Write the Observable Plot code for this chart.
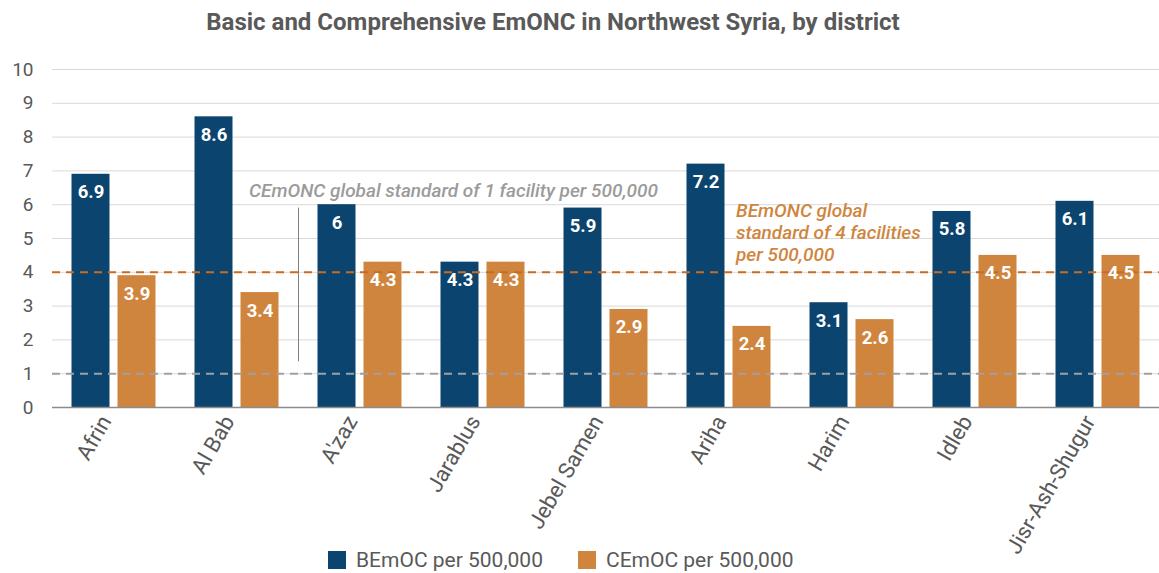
<!DOCTYPE html>
<html>
<head>
<meta charset="utf-8">
<script src="https://cdn.jsdelivr.net/npm/d3@7"></script>
<script src="https://cdn.jsdelivr.net/npm/@observablehq/plot@0.6"></script>
<style>
  html, body { margin: 0; padding: 0; background: #fff; }
  #wrap { position: relative; width: 1159px; height: 573px; font-family: Roboto, "Noto Sans", sans-serif; }
  #title { width: 1106px; height: 45px; line-height: 45px; text-align: center; font-weight: bold; font-size: 24px; color: #595959; }
  #legend { position: absolute; left: 328px; top: 548px; display: flex; align-items: center; font-size: 21px; color: #595959; }
  #legend .item { display: flex; align-items: center; margin-right: 35px; }
  #legend .sw { width: 18px; height: 18px; margin-right: 10px; }
</style>
</head>
<body>
<div id="wrap">
  <div id="title">Basic and Comprehensive EmONC in Northwest Syria, by district</div>
  <div id="chart"></div>
  <div id="legend"></div>
</div>
<script>
// Districts of Northwest Syria
const districts = ["Afrin", "Al Bab", "A'zaz", "Jarablus", "Jebel Samen", "Ariha", "Harim", "Idleb", "Jisr-Ash-Shugur"];
// Facilities per 500,000 population
const bemoc = [6.9, 8.6, 6, 4.3, 5.9, 7.2, 3.1, 5.8, 6.1];
const cemoc = [3.9, 3.4, 4.3, 4.3, 2.9, 2.4, 2.6, 4.5, 4.5];
const seriesNames = ["BEmOC per 500,000", "CEmOC per 500,000"];
const seriesColors = ["#0b446e", "#d0853e"];
const yTicks = [0, 1, 2, 3, 4, 5, 6, 7, 8, 9, 10];

// Global standards
const bStandard = 4;
const cStandard = 1;
const bNote = "BEmONC global\nstandard of 4 facilities\nper 500,000";
const cNote = "CEmONC global standard of 1 facility per 500,000";

const W = 1159, H = 528;
const mL = 52, mR = 0, mT = 24, mB = 166;
const step = (W - mL - mR) / districts.length;
const barW = 38, barGap = 8;

const bRows = districts.map((d, i) => ({district: d, value: bemoc[i]}));
const cRows = districts.map((d, i) => ({district: d, value: cemoc[i]}));

const leftInset = {insetLeft: step / 2 - barGap / 2 - barW, insetRight: step / 2 + barGap / 2};
const rightInset = {insetLeft: step / 2 + barGap / 2, insetRight: step / 2 - barGap / 2 - barW};
const off = barGap / 2 + barW / 2;

const labelStyle = {fill: "white", fontWeight: "bold", fontSize: 18.5, dy: 18, text: d => String(d.value)};

const chart = Plot.plot({
  width: W,
  height: H,
  marginLeft: mL,
  marginRight: mR,
  marginTop: mT,
  marginBottom: mB,
  style: {fontFamily: "Roboto, sans-serif", fontSize: "19px", color: "#595959", background: "white"},
  x: {domain: districts, padding: 0, tickSize: 0, tickRotate: -60, tickPadding: 10, label: null},
  y: {domain: [0, 10], ticks: yTicks, tickSize: 0, tickPadding: 19, label: null},
  marks: [
    Plot.ruleY(yTicks.slice(1), {stroke: "#d9d9d9", strokeWidth: 1}),
    Plot.barY(bRows, {x: "district", y: "value", fill: seriesColors[0], ...leftInset}),
    Plot.barY(cRows, {x: "district", y: "value", fill: seriesColors[1], ...rightInset}),
    Plot.ruleY([0], {stroke: "#8c8c8c", strokeWidth: 1.5}),
    Plot.ruleY([bStandard], {stroke: "#c96b22", strokeWidth: 2, strokeDasharray: "8,6"}),
    Plot.ruleY([cStandard], {stroke: "#a0a0a0", strokeWidth: 2, strokeDasharray: "8,6"}),
    Plot.text(bRows, {x: "district", y: "value", dx: -off, ...labelStyle}),
    Plot.text(cRows, {x: "district", y: "value", dx: off, ...labelStyle}),
    // callout for the CEmONC standard
    Plot.ruleX(["A'zaz"], {y1: 1.35, y2: 5.9, dx: -step / 2, stroke: "#808080", strokeWidth: 1}),
    Plot.text([cNote], {x: ["Al Bab"], y: [6.42], text: d => d, dx: 12, textAnchor: "start", fill: "#9b9b9b", fontStyle: "italic", fontWeight: 500, fontSize: 19}),
    Plot.text([bNote], {x: ["Ariha"], y: [5.2], text: d => d, dx: 7, textAnchor: "start", lineHeight: 1.18, fill: "#d0853e", fontStyle: "italic", fontWeight: 500, fontSize: 19})
  ]
});
// larger district labels on the x axis, ending at the group centre
chart.querySelectorAll("g[aria-label='x-axis tick label'], g[aria-label='x-axis']").forEach(g => {
  g.setAttribute("transform", ((g.getAttribute("transform") || "") + " translate(-8,0)").trim());
  g.querySelectorAll("text").forEach(t => t.setAttribute("font-size", "22"));
});
document.getElementById("chart").appendChild(chart);

// Legend beneath the chart
const legend = document.getElementById("legend");
seriesNames.forEach((name, i) => {
  const item = document.createElement("div");
  item.className = "item";
  const sw = document.createElement("div");
  sw.className = "sw";
  sw.style.background = seriesColors[i];
  const label = document.createElement("span");
  label.textContent = name;
  item.appendChild(sw);
  item.appendChild(label);
  legend.appendChild(item);
});
</script>
</body>
</html>
